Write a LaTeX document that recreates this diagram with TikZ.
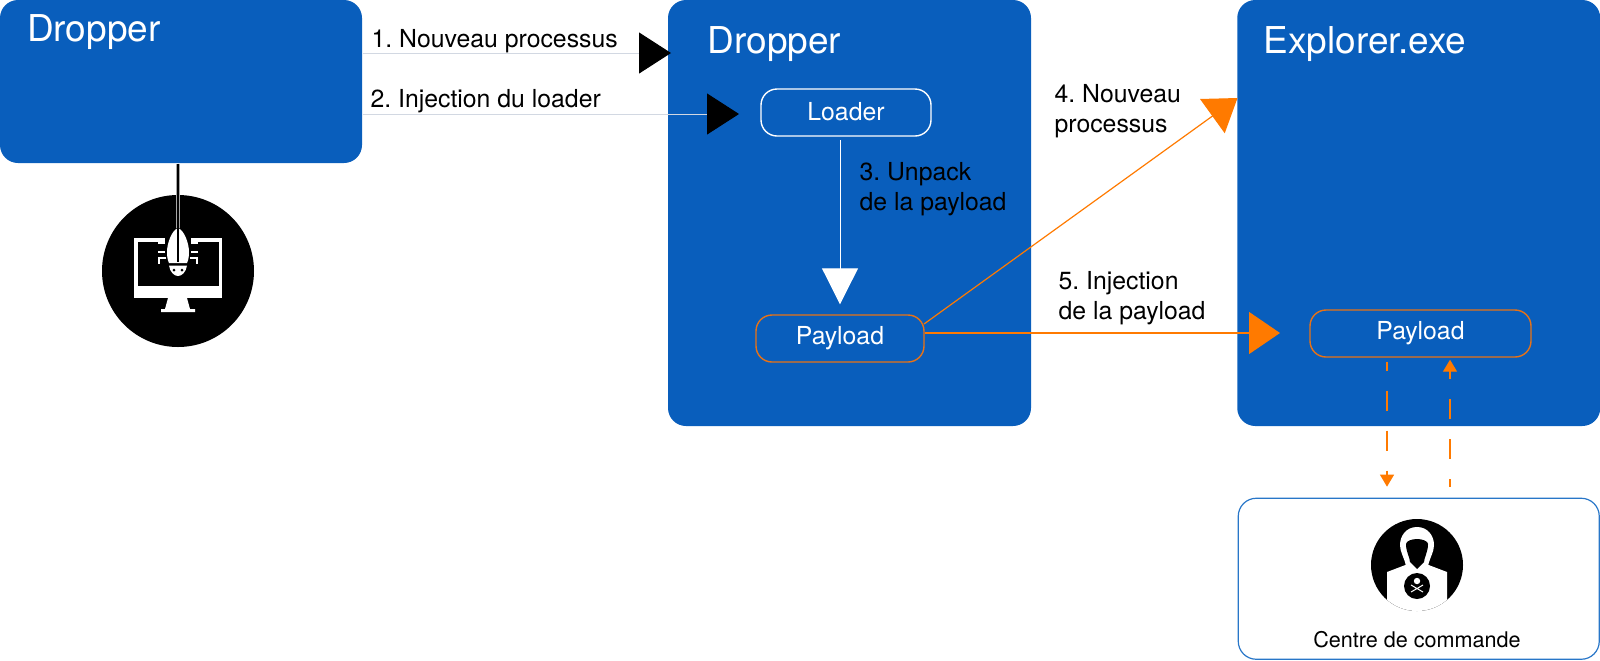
\documentclass[tikz,border=0pt]{standalone}
\usepackage{fontspec}
\setmainfont{TeX Gyre Heros}
\usetikzlibrary{arrows.meta}
\definecolor{panelblue}{RGB}{9,94,188}
\definecolor{flowgray}{RGB}{210,216,226}
\definecolor{floworange}{RGB}{255,122,0}
\definecolor{boxorange}{RGB}{232,114,22}
\definecolor{cncblue}{RGB}{40,118,200}

\begin{document}
\frenchspacing
\begin{tikzpicture}[x=0.5pt,y=-0.5pt,semithick]
                \tikzstyle{panel}=[draw=none,fill=panelblue,rounded corners=9pt,inner sep=0pt]
                \tikzstyle{paneltitle}=[anchor=base west,inner sep=0pt,text=white,font=\fontsize{18.5}{22}\selectfont]
                \tikzstyle{box}=[rounded corners=8pt,fill=none,inner sep=0pt,line width=0.7pt,text=white,font=\fontsize{12.4}{15}\selectfont]
                \tikzstyle{loaderbox}=[box,draw=white,minimum width=85pt,minimum height=23.5pt,text height=10.2pt,text depth=2pt]
                \tikzstyle{payloadbox}=[box,draw=boxorange,minimum height=23.5pt,text height=8.7pt,text depth=3pt]
                \tikzstyle{steplabel}=[anchor=base west,inner sep=0pt,align=left,text=black,font=\fontsize{12.4}{15}\selectfont]
                \tikzstyle{disc}=[circle,fill=black,inner sep=0pt]
                \tikzstyle{thinflow}=[draw=flowgray,line width=0.5pt,-{Triangle[length=16pt,width=20.5pt,color=black]}]
                \tikzstyle{unpackflow}=[draw=white,line width=0.5pt,-{Triangle[length=18pt,width=18pt,color=white]}]
                \tikzstyle{orangeflow}=[draw=floworange,line width=0.6pt,-{Triangle[length=15.5pt,width=21pt,color=floworange]}]
                \tikzstyle{dashflow}=[draw=floworange,line width=0.6pt,dash pattern=on 10pt off 10pt,-{Triangle[length=6pt,width=7pt,color=floworange]}]

                \useasboundingbox (0,0) rectangle (1600,660);

                \node[panel,minimum width=181pt,minimum height=81.5pt]   (dropperA) at (181,81.5)      {};
                \node[panel,minimum width=181.5pt,minimum height=213pt]  (dropperB) at (849.5,213)     {};
                \node[panel,minimum width=181.5pt,minimum height=213pt]  (explorer) at (1418.75,213)   {};
                \node[draw=cncblue,line width=0.6pt,rounded corners=9pt,inner sep=0pt,minimum width=180.5pt,minimum height=80.5pt] (cnc) at (1418.75,578.75) {};

                \node[paneltitle] (titleA) at (26.5,41) {Dropper};
                \node[paneltitle] (titleB) at (707,53)  {Dropper};
                \node[paneltitle] (titleC) at (1263,53) {Explorer.exe};

                \node[loaderbox]                    (loader)   at (846,112.5) {Loader};
                \node[payloadbox,minimum width=84pt]  (payloadA) at (840,338.5) {Payload};
                \node[payloadbox,minimum width=110.5pt] (payloadB) at (1420.5,333.5) {Payload};

                \node[steplabel] (stepA) at (371,47)   {1. Nouveau processus};
                \node[steplabel] (stepB) at (370,107)  {2. Injection du loader};
                \node[steplabel] (stepC) at (859,210)  {3. Unpack\\de la payload};
                \node[steplabel] (stepD) at (1054,132) {4. Nouveau\\processus};
                \node[steplabel] (stepE) at (1058,319) {5. Injection\\de la payload};
                \node[anchor=base,inner sep=0pt,font=\fontsize{10.8}{13}\selectfont] (cncname) at (1417,647) {Centre de commande};

                \coordinate (tipA) at (671,53);
                \coordinate (tipB) at (739,114);
                \coordinate (tipD) at (1237.5,98);
                \coordinate (tailD) at (924,324);
                \coordinate (tipE) at (1280,333);
                \coordinate (tapeA) at (840,140);
                \coordinate (chanA) at (1387,0);
                \coordinate (chanB) at (1450,0);

                \path   (dropperA.east |- tipA) edge[thinflow]   (tipA)
                        (dropperA.east |- tipB) edge[thinflow]   (tipB)
                        (tapeA) edge[unpackflow,shorten >=5pt] (payloadA.north -| tapeA)
                        (tailD) edge[orangeflow] (tipD)
                        (payloadA.east |- tipE) edge[orangeflow] (tipE)
                        (payloadB.south -| chanA) edge[dashflow,dash phase=5.5pt,shorten <=2pt,shorten >=5.5pt] (cnc.north -| chanA)
                        (cnc.north -| chanB) edge[dashflow,dash phase=6pt,shorten <=5.5pt,shorten >=1pt] (payloadB.south -| chanB);

                \node[disc,minimum size=76pt] (bugdisc) at (178,271) {};
                \fill[white] (134,238) rectangle (222,298);
                \fill[black] (137.5,241.5) rectangle (218.5,286);
                \fill[white] (168,298) -- (187,298) -- (190,309) -- (195,309) -- (195,312) -- (161,312) -- (161,309) -- (165,309) -- cycle;
                \fill[black] (165,236) rectangle (191,242);
                \fill[white] (178,228) .. controls (184,230) and (189,243) .. (189,252) .. controls (189,256) and (188.5,260) .. (187,263)
                        -- (169,263) .. controls (167.5,260) and (167,256) .. (167,252) .. controls (167,243) and (172,230) .. (178,228) -- cycle;
                \fill[white] (169,265.5) -- (187,265.5) .. controls (186,272) and (182,276) .. (178,276) .. controls (174,276) and (170,272) .. (169,265.5) -- cycle;
                \fill[black] (174,270) circle (1.5) (182,270) circle (1.5);
                \draw[white,line width=0.8pt] (165,243) -- (159,243) -- (159,239) (165,252) -- (158,252) (166,258) -- (159,258) -- (159,264)
                        (191,243) -- (197,243) -- (197,239) (191,252) -- (198,252) (190,258) -- (197,258) -- (197,264);
                \coordinate (bugtop) at (178,228);
                \draw[gray!70,line width=1.6pt] (bugtop |- dropperA.south) -- (bugtop);
                \draw[black,line width=0.8pt] (bugtop |- dropperA.south) -- (178,262);

                \node[disc,minimum size=46pt] (hackdisc) at (1417,565) {};
                \begin{scope}
                        \clip (hackdisc.center) circle (46);
                        \fill[white] (1387,620) -- (1387,572) -- (1408,564) -- (1426,564) -- (1447,572) -- (1447,620) -- cycle;
                \end{scope}
                \fill[white] (1417,527) .. controls (1428,527) and (1434,536) .. (1434,545) .. controls (1434,552) and (1430,557) .. (1428,566)
                        -- (1406,566) .. controls (1404,557) and (1400,552) .. (1400,545) .. controls (1400,536) and (1406,527) .. (1417,527) -- cycle;
                \fill[black] (1406,544) .. controls (1406,541) and (1412,539) .. (1417,539) .. controls (1422,539) and (1428,541) .. (1428,544)
                        .. controls (1428,552) and (1424,558) .. (1424,562) -- (1417,569) -- (1410,562) .. controls (1410,558) and (1406,552) .. (1406,544) -- cycle;
                \node[disc,minimum size=13pt] (skull) at (1417,586) {};
                \fill[white] (1417,581) circle (3.2);
                \draw[white,line width=0.5pt] (1411,585) -- (1423,592) (1423,585) -- (1411,592);
            \end{tikzpicture}
\end{document}
